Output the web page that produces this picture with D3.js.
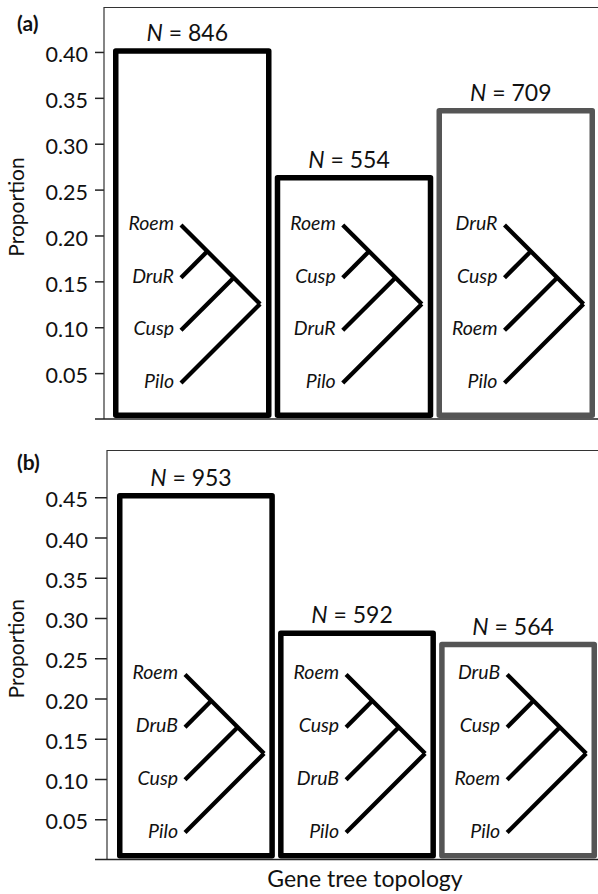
<!DOCTYPE html>
<html>
<head>
<meta charset="utf-8">
<script src="https://cdn.jsdelivr.net/npm/d3@7"></script>
<style>
  body { margin: 0; background: #fff; }
  text { font-family: Lato, "Open Sans", sans-serif; fill: #111; }
</style>
</head>
<body>
<div id="chart-area"></div>
<script>
// gene tree topology counts and proportions
const countsA = [846, 554, 709]
const propA = [0.401, 0.263, 0.336]
const leavesA = [
  ["Roem", "DruR", "Cusp", "Pilo"],
  ["Roem", "Cusp", "DruR", "Pilo"],
  ["DruR", "Cusp", "Roem", "Pilo"]
]
const ticksA = [0.05, 0.10, 0.15, 0.20, 0.25, 0.30, 0.35, 0.40]

const countsB = [953, 592, 564]
const propB = [0.452, 0.281, 0.267]
const leavesB = [
  ["Roem", "DruB", "Cusp", "Pilo"],
  ["Roem", "Cusp", "DruB", "Pilo"],
  ["DruB", "Cusp", "Roem", "Pilo"]
]
const ticksB = [0.05, 0.10, 0.15, 0.20, 0.25, 0.30, 0.35, 0.40, 0.45]

const WIDTH = 598
const HEIGHT = 894
const BAR_STROKE = 5.5
const barColors = ["#000", "#000", "#555"]

const svg = d3.select("#chart-area").append("svg")
  .attr("width", WIDTH)
  .attr("height", HEIGHT)

// panel layouts (pixels)
const panels = [
  { tag: "(a)", counts: countsA, props: propA, leaves: leavesA, ticks: ticksA,
    top: 7, bottom: 419, left: 104, yMax: 0.449, bars: [113, 595],
    tagY: 31, treeRootAbove: 115 },
  { tag: "(b)", counts: countsB, props: propB, leaves: leavesB, ticks: ticksB,
    top: 450, bottom: 859.5, left: 107, yMax: 0.5087, bars: [117, 597],
    tagY: 470, treeRootAbove: 106 }
]

panels.forEach(p => drawPanel(p))

function drawPanel(p) {
  const g = svg.append("g")
  const y = d3.scaleLinear().domain([0, p.yMax]).range([p.bottom, p.top])
  const x = d3.scaleBand()
    .domain(d3.range(p.counts.length))
    .range(p.bars)
    .paddingInner(0.02)
    .paddingOuter(0)

  // frame: top and left
  g.append("line")
    .attr("x1", p.left).attr("x2", WIDTH)
    .attr("y1", p.top + 0.5).attr("y2", p.top + 0.5)
    .attr("stroke", "#333").attr("stroke-width", 1.2)

  // y axis
  const tickLen = p.left - 95
  const yAxis = g.append("g")
    .attr("transform", `translate(${p.left}, 0)`)
    .call(d3.axisLeft(y)
      .tickValues(p.ticks)
      .tickFormat(d3.format(".2f"))
      .tickSize(tickLen)
      .tickPadding(p.left - 88 - tickLen))
  yAxis.select(".domain").remove()
  yAxis.selectAll(".tick line").attr("stroke", "#222").attr("stroke-width", 1.5)
  yAxis.selectAll(".tick text")
    .attr("font-size", "21.5px")
    .attr("font-family", "Lato, sans-serif")
    .attr("fill", "#111")
    .attr("dy", "0.45em")
  g.append("line")
    .attr("x1", p.left).attr("x2", p.left)
    .attr("y1", p.top).attr("y2", y(0))
    .attr("stroke", "#333").attr("stroke-width", 1.2)

  // baseline
  g.append("line")
    .attr("x1", 95).attr("x2", WIDTH)
    .attr("y1", y(0)).attr("y2", y(0))
    .attr("stroke", "#222").attr("stroke-width", 1.5)

  // bars
  const hs = BAR_STROKE / 2
  g.selectAll("rect.bar").data(p.props).enter().append("rect")
    .attr("class", "bar")
    .attr("x", (d, i) => x(i) + hs)
    .attr("y", d => y(d))
    .attr("width", x.bandwidth() - BAR_STROKE)
    .attr("height", d => y(0) - y(d) - hs - 1)
    .attr("fill", "#fff")
    .attr("stroke", (d, i) => barColors[i])
    .attr("stroke-width", BAR_STROKE)
    .attr("stroke-linejoin", "round")

  // N labels
  const nLab = g.selectAll("text.n").data(p.counts).enter().append("text")
    .attr("class", "n")
    .attr("x", (d, i) => x(i) + x.bandwidth() / 2 - 5)
    .attr("y", (d, i) => y(p.props[i]) - 10)
    .attr("text-anchor", "middle")
    .attr("font-size", "23px")
  nLab.append("tspan").attr("font-style", "italic").text("N")
  nLab.append("tspan").text(d => ` = ${d}`)

  // trees
  const s = 52.7
  p.leaves.forEach((leaves, i) => {
    const tx = x(i) + 68
    const rootY = y(0) - p.treeRootAbove
    const ly = d3.scalePoint().domain(leaves).range([rootY - 1.5 * s, rootY + 1.5 * s])
    const y0 = ly(leaves[0])
    const tree = g.append("g")
    const segs = [
      [[tx, y0], [tx + 1.5 * s, y0 + 1.5 * s]],
      [[tx, ly(leaves[1])], [tx + 0.5 * s, y0 + 0.5 * s]],
      [[tx, ly(leaves[2])], [tx + s, y0 + s]],
      [[tx, ly(leaves[3])], [tx + 1.5 * s, y0 + 1.5 * s]]
    ]
    tree.selectAll("path").data(segs).enter().append("path")
      .attr("d", d3.line())
      .attr("fill", "none")
      .attr("stroke", "#000")
      .attr("stroke-width", 4.3)
      .attr("stroke-linecap", "butt")
    tree.selectAll("text").data(leaves).enter().append("text")
      .attr("x", tx - 7)
      .attr("y", d => ly(d) + 5)
      .attr("text-anchor", "end")
      .attr("font-style", "italic")
      .attr("font-size", "19.5px")
      .text(d => d)
  })

  // panel tag
  g.append("text")
    .attr("x", 17)
    .attr("y", p.tagY)
    .attr("font-weight", "bold")
    .attr("font-size", "21px")
    .text(p.tag)

  // y label
  g.append("text")
    .attr("transform", `translate(24, ${(p.top + p.bottom) / 2 - 6}) rotate(-90)`)
    .attr("text-anchor", "middle")
    .attr("font-size", "21px")
    .text("Proportion")
}

// x label
svg.append("text")
  .attr("x", 365)
  .attr("y", 887)
  .attr("text-anchor", "middle")
  .attr("font-size", "23px")
  .text("Gene tree topology")
</script>
</body>
</html>
